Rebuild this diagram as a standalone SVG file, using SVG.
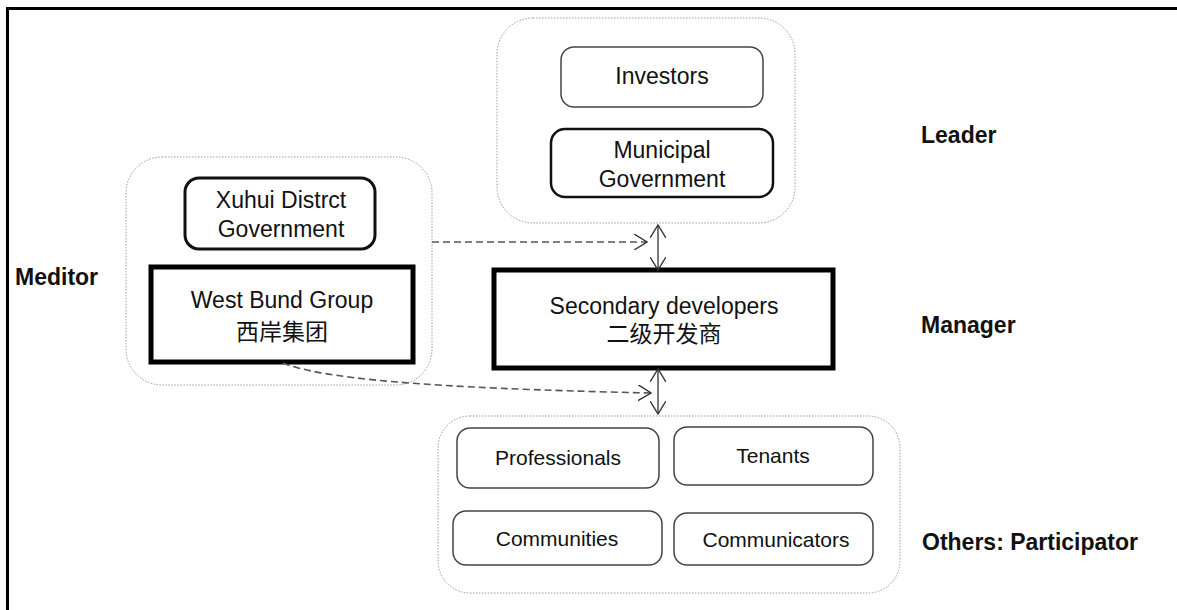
<svg xmlns="http://www.w3.org/2000/svg" width="1177" height="610" viewBox="0 0 1177 610">
<style>
text{font-family:"Liberation Sans",Arial,"Noto Sans CJK SC",sans-serif;fill:#111;}
.t{font-size:23px;text-anchor:middle;}
.s{font-size:21px;text-anchor:middle;}
.lbl{font-size:23px;font-weight:bold;}
.grp{fill:none;stroke:#9a9a9a;stroke-width:1;stroke-dasharray:1.5 1.5;}
.box{fill:#fff;stroke:#444;stroke-width:1.5;}
.dash{fill:none;stroke:#555;stroke-width:1.6;stroke-dasharray:7 4;}
.dbl{fill:none;stroke:#333;stroke-width:1.3;}
</style>
<defs>
<marker id="v" viewBox="0 0 14 16" refX="13" refY="8" markerWidth="14" markerHeight="16" markerUnits="userSpaceOnUse" orient="auto-start-reverse">
<path d="M0,0 L13,8 L0,16" fill="none" stroke="#333" stroke-width="1.4"/>
</marker>
</defs>
<rect width="1177" height="610" fill="#fff"/>
<path d="M7.5,610 V8.5 H1177" fill="none" stroke="#000" stroke-width="3"/>

<g id="leader-group"><rect class="grp" x="497" y="18" width="298" height="205" rx="36"/></g>
<g id="meditor-group"><rect class="grp" x="126" y="157" width="306" height="228" rx="36"/></g>
<g id="others-group"><rect class="grp" x="438" y="416" width="462" height="177" rx="32"/></g>

<g id="investors"><rect class="box" x="561" y="47" width="202" height="60" rx="13" stroke="#555"/><text class="t" x="662" y="84">Investors</text></g>
<g id="municipal"><rect class="box" x="551" y="129" width="222" height="68" rx="14" style="stroke:#111;stroke-width:2.5"/><text class="t" x="662" y="158">Municipal</text><text class="t" x="662" y="187">Government</text></g>
<g id="xuhui"><rect class="box" x="185" y="178" width="190" height="71" rx="14" style="stroke:#111;stroke-width:3"/><text class="t" x="281" y="208">Xuhui Distrct</text><text class="t" x="281" y="237">Government</text></g>
<g id="westbund"><rect class="box" x="151" y="267" width="262" height="95" style="stroke:#000;stroke-width:5"/><text class="t" x="282" y="308">West Bund Group</text><text class="t" x="282" y="340">西岸集团</text></g>
<g id="secondary"><rect class="box" x="494" y="270" width="339" height="98" style="stroke:#000;stroke-width:5"/><text class="t" x="664" y="314">Secondary developers</text><text class="t" x="664" y="342">二级开发商</text></g>

<g id="professionals"><rect class="box" x="457" y="428" width="202" height="60" rx="13"/><text class="s" x="558" y="465">Professionals</text></g>
<g id="tenants"><rect class="box" x="674" y="427" width="199" height="58" rx="13"/><text class="s" x="773" y="463">Tenants</text></g>
<g id="communities"><rect class="box" x="453" y="511" width="209" height="54" rx="13"/><text class="s" x="557" y="546">Communities</text></g>
<g id="communicators"><rect class="box" x="674" y="513" width="199" height="52" rx="13"/><text class="s" x="776" y="547">Communicators</text></g>

<g id="labels">
<text class="lbl" x="921" y="143">Leader</text>
<text class="lbl" x="15" y="285">Meditor</text>
<text class="lbl" x="921" y="333">Manager</text>
<text class="lbl" x="922" y="550">Others: Participator</text>
</g>

<g id="connectors">
<line class="dbl" x1="658" y1="225" x2="658" y2="270" marker-start="url(#v)" marker-end="url(#v)"/>
<line class="dbl" x1="658" y1="369" x2="658" y2="414" marker-start="url(#v)" marker-end="url(#v)"/>
<line class="dash" x1="432" y1="242" x2="647" y2="242" marker-end="url(#v)"/>
<path class="dash" d="M283,363 C320,378 420,388 651,393" marker-end="url(#v)"/>
</g>
</svg>
